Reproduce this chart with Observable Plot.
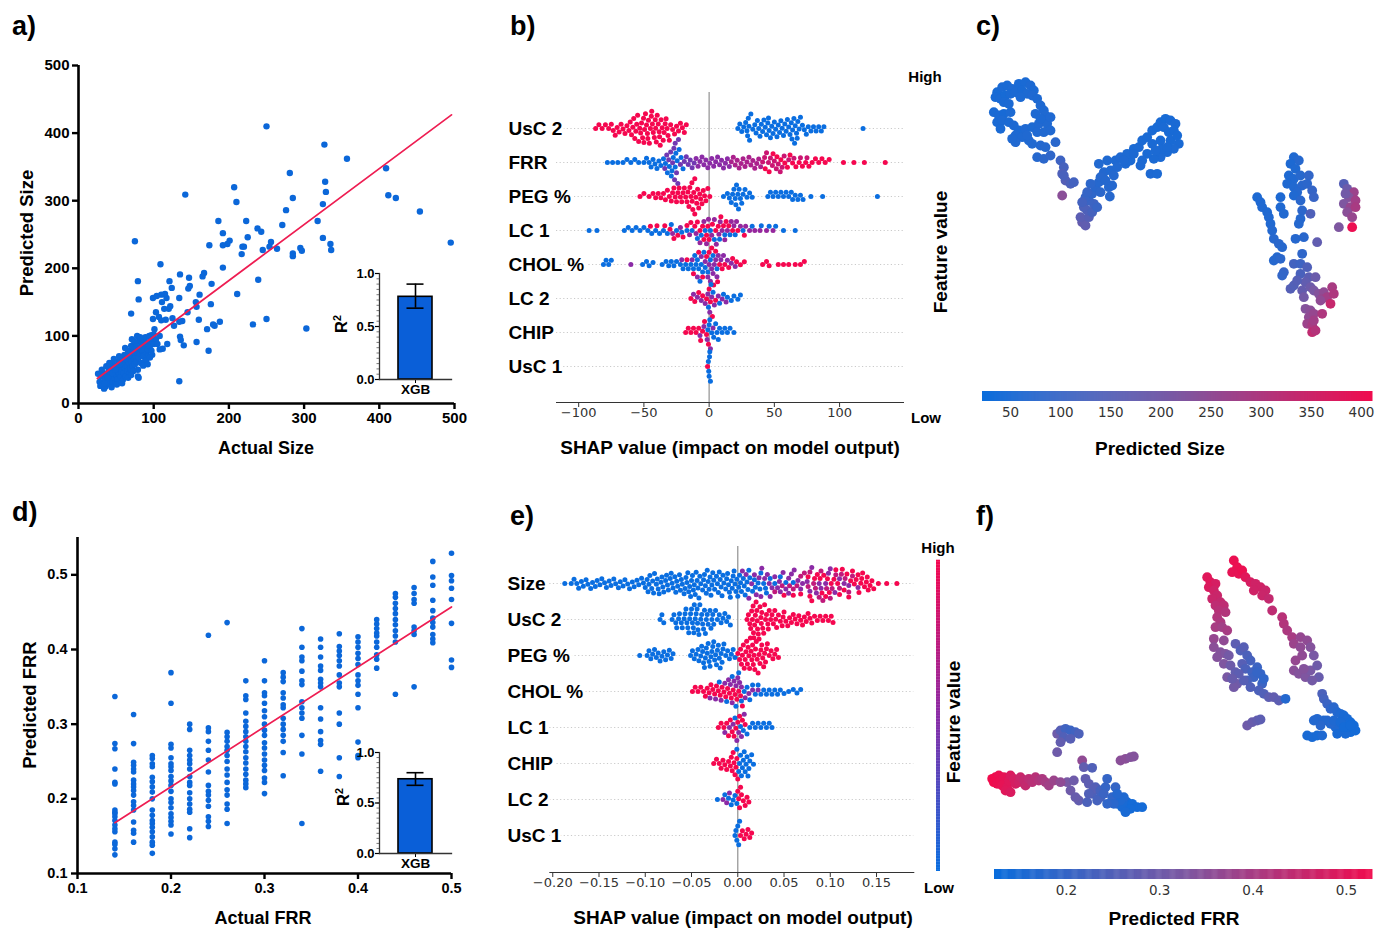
<!DOCTYPE html>
<html><head><meta charset="utf-8">
<script src="https://cdn.jsdelivr.net/npm/d3@7"></script>
<script src="https://cdn.jsdelivr.net/npm/@observablehq/plot@0.6"></script>
<style>
body{margin:0;background:#fff}
#root{position:relative;width:1376px;height:928px;overflow:hidden;background:#fff;font-family:'Liberation Sans',Arial,Helvetica,sans-serif}
.lbl{position:absolute;white-space:nowrap;line-height:1}
#root svg{position:absolute;overflow:visible;background:transparent;max-width:none}
</style></head><body><div id="root"></div>
<script>
// ---------------- DATA ----------------
// Panel a: Actual vs Predicted Size
const sizeTicks = [0,100,200,300,400,500];
const sizeScatter = [
[250,410],[327,383],[357,362],[409,348],[412,308],[422,304],[454,284],[495,238],[303,111],[328,328],[329,313],[325,295],[318,270],[325,245],[335,236],[336,227],[281,341],[285,304],[276,286],[271,264],[295,230],[297,226],[285,222],[285,218],[264,229],[256,239],[254,232],[245,227],[243,254],[238,259],[239,183],[250,125],[232,117],[207,320],[210,298],[223,270],[225,246],[218,232],[220,232],[217,221],[201,241],[198,236],[192,234],[192,252],[186,270],[192,201],[211,162],[174,234],[142,309],[165,188],[167,193],[177,177],[176,147],[161,161],[156,150],[157,143],[145,135],[160,124],[157,91],[171,110],[181,115],[179,117],[188,121],[173,78],[147,186],[148,174],[146,170],[135,191],[134,156],[134,33],[140,86],[135,99],[136,94],[138,122],[134,121],[127,115],[125,126],[124,171],[121,181],[122,144],[120,140],[117,156],[115,162],[109,206],[110,161],[99,156],[104,159],[111,150],[114,140],[107,128],[103,135],[116,124],[110,123],[99,125],[101,110],[118,88],[112,81],[108,80],[97,101],[79,181],[75,240],[80,154],[70,133],[80,38],
[28,32],[30,40],[32,28],[33,45],[35,36],[36,25],[38,42],[38,30],[40,48],[40,35],[42,28],[43,52],[44,40],[45,33],[46,58],[47,45],[48,38],[49,30],[50,55],[50,42],[52,48],[52,36],[53,62],[54,44],[55,52],[56,40],[57,68],[57,47],[58,55],[59,35],[60,60],[60,45],[61,72],[62,52],[63,40],[64,65],[65,56],[65,48],[66,78],[67,60],[68,44],[68,70],[69,52],[70,85],[70,62],[71,95],[72,55],[72,72],[73,48],[74,80],[74,66],[75,58],[76,90],[76,70],[77,62],[78,100],[78,76],[79,50],[80,82],[80,68],[81,92],[82,74],[83,60],[84,88],[85,78],[85,95],[86,70],[87,84],[88,62],[89,98],[90,76],[91,90],[92,80],[93,70],[94,100],[95,85],[96,92],[97,78],[98,72],[99,96],[100,88],[26,44],[29,26],[31,50],[34,22],[37,55],[41,60],[44,24],[47,66],[51,28],[54,70],[58,30],[62,82],[66,38],[70,42],[74,92],[79,40],[82,98],[86,56],[90,64],[95,68],[100,102],[103,95],[105,88],[108,100],[92,58],[35,30],[39,38],[45,45],[49,50],[55,58],[63,66],[67,72],[73,76],[77,84],[84,80]
];
const sizeFitActual = [25, 496];
const sizeFitPred = [37, 427];

// Insets (R2 of XGB model)
const models = ["XGB"];
const sizeR2 = [0.78];
const sizeR2Err = [[0.673, 0.90]];
const frrR2 = [0.735];
const frrR2Err = [[0.675, 0.80]];

// Panel d: Actual vs Predicted FRR
const frrTicks = [0.1,0.2,0.3,0.4,0.5];
const frrActualLevels = [0.14,0.16,0.18,0.20,0.22,0.24,0.26,0.28,0.30,0.32,0.34,0.36,0.38,0.40,0.42,0.44,0.46,0.48,0.50];
const frrPredicted = [
 [0.337,0.274,0.267,0.240,0.222,0.220,0.185,0.182,0.180,0.176,0.171,0.165,0.160,0.156,0.142,0.139,0.133,0.125],
 [0.313,0.274,0.249,0.245,0.240,0.236,0.225,0.220,0.216,0.211,0.205,0.196,0.191,0.185,0.169,0.158,0.154,0.142],
 [0.258,0.254,0.247,0.243,0.229,0.223,0.216,0.209,0.200,0.185,0.178,0.171,0.167,0.162,0.156,0.149,0.142,0.138,0.127],
 [0.369,0.328,0.273,0.268,0.255,0.247,0.243,0.238,0.230,0.224,0.218,0.210,0.200,0.195,0.188,0.180,0.175,0.170,0.165,0.153],
 [0.300,0.293,0.265,0.258,0.252,0.247,0.240,0.230,0.222,0.218,0.208,0.200,0.193,0.186,0.182,0.160,0.148],
 [0.419,0.295,0.290,0.277,0.265,0.252,0.236,0.218,0.210,0.205,0.198,0.190,0.176,0.170,0.163],
 [0.436,0.289,0.283,0.277,0.270,0.265,0.258,0.250,0.240,0.232,0.222,0.212,0.205,0.193,0.186,0.167],
 [0.358,0.338,0.333,0.315,0.304,0.297,0.290,0.283,0.277,0.270,0.263,0.255,0.248,0.240,0.233,0.225,0.220,0.215],
 [0.385,0.358,0.342,0.338,0.328,0.318,0.310,0.300,0.292,0.285,0.275,0.268,0.260,0.252,0.245,0.238,0.228,0.222,0.207],
 [0.369,0.363,0.357,0.342,0.335,0.326,0.322,0.308,0.300,0.293,0.285,0.277,0.262,0.231],
 [0.428,0.403,0.390,0.385,0.371,0.358,0.353,0.330,0.322,0.315,0.308,0.285,0.260,0.167],
 [0.414,0.403,0.390,0.378,0.372,0.360,0.355,0.350,0.322,0.307,0.290,0.278,0.273,0.237],
 [0.421,0.404,0.398,0.392,0.385,0.378,0.366,0.355,0.350,0.315,0.300,0.255,0.230],
 [0.417,0.410,0.403,0.395,0.388,0.380,0.366,0.358,0.352,0.340,0.322,0.276,0.258,0.255],
 [0.440,0.434,0.428,0.422,0.418,0.410,0.403,0.393,0.387,0.375],
 [0.475,0.470,0.462,0.455,0.448,0.440,0.433,0.425,0.418,0.410,0.340],
 [0.483,0.475,0.467,0.462,0.430,0.425,0.420,0.350],
 [0.518,0.497,0.486,0.466,0.452,0.442,0.436,0.430,0.420,0.414,0.409],
 [0.529,0.499,0.492,0.482,0.467,0.435,0.386,0.376]
];
const frrFitActual = [0.14, 0.50];
const frrFitPred = [0.168, 0.457];

// Panel b: SHAP values for Size model, [feature level (0 low .. 1 high), SHAP values]
const featuresB = ["UsC 2","FRR","PEG %","LC 1","CHOL %","LC 2","CHIP","UsC 1"];
const shapTicksB = [-100,-50,0,50,100];
const bUsC2 = [
 [1,[-87,-84.5,-82,-79.5,-77,-75,-73.5,-72,-70.5,-69,-67.5,-66,-64.5,-63,-61.5,-60.5,-59.5,-58.5,-57.8,-57,-56.2,-55.5,-54.8,-54,-53.2,-52.5,-51.8,-51,-50.3,-49.5,-48.8,-48,-47.3,-46.5,-45.8,-45,-44.3,-43.5,-42.8,-42,-41.3,-40.5,-39.8,-39,-38.3,-37.5,-36.8,-36,-35.2,-34.5,-33.7,-33,-32.2,-31.5,-30.5,-29.5,-28,-26.5,-25,-23.5,-22,-20.5,-19,-17.5,-44,-41,-38,-50,-47]],
 [0,[22,23.5,25,26.5,28,29,29.5,30,31,32,33.5,35,36,37,38,39,40,41,42,43,44,45,46,47,48,49,50,51,52,53,54,55,56,57,58,59,60,61,62,63,64,65,65.5,66,67,68,69,70,71.5,73,74.5,76,78,80,82,84,86,88,118,30.5,45.5,63.5,67.5]]
];
const bFRR = [
 [0,[-78,-74,-70,-66,-63,-60,-57,-54,-50,-48,-46,-44.5,-43,-41.5,-40,-38.5,-37,-35,-33.5,-32,-30.5,-29,-27.5,-26,-24.5,-23,-21.5,-20,-28.5,-25.5]],
 [0.4,[-34,-32.5,-31,-29.5,-28,-27,-26.5,-25,-23.5,-22,-19,-17.5,-16,-14.5,-13,-11.5,-26,-24]],
 [0.5,[-10,-8.5,-7,-5.5,-4,-2.5,-1,0.5,2,3.5,5,6.5,8,9.5,11,12.5,14,15.5]],
 [0.65,[17,18.5,20,21.5,23,24.5,26,27.5,29,30.5,32,33.5,35,36.5,38,39.5]],
 [0.8,[41,42.5,44,45.5,47,48.5,50,51.5,53,54.5,56,57.5,61,65,70,75]],
 [1,[43,46,49,52,55,58,60,62,64,66.5,69,71.5,74,76.5,79,81.5,84,86.5,89,92,103,111,119,135]]
];
const bPEG = [
 [1,[-53,-50,-46,-43,-41,-39,-37,-35,-33.5,-32,-30.5,-29,-28,-27,-26,-25,-24,-23,-22,-21,-20,-19,-18,-17,-16.2,-15.5,-14.8,-14,-13.2,-12.5,-11.8,-11,-10.2,-9.5,-8.8,-8,-7.2,-6.5,-5.5,-4.5,-3.5,-2.5,-1,0.5,-13,-11]],
 [0,[11,14,15.5,17,18,19,20,21,22,23,24,25,26,27.5,29,31,33,45,47,49,51,53,55,57,59,61,63,64,66,68,70,72,78,87,129,20.5,22.5]]
];
const bLC1 = [
 [0,[-92,-86,-65,-62,-59,-56,-53,-50,-47,-44,-41,-38,-35,-32,-29,-25,-21,-17,-13,-9,-6,-3,1,4,8,12,16,20,26,33,40,46,51,57,66]],
 [1,[-45,-40,-34,-30,-27,-24,-20,-17,-14,-11,-9,-7,-5,-4,-2,-1,0,2.5,5,7,9,11,13,15,18,22,27]],
 [0.55,[-28,-22,-15,-10,-7,-4,-2,-0.5,2,4,5.5,7.5,8.5,10,12,14,17,19,21,24,28,31,35,39,44,49]]
];
const bCHOL = [
 [0,[-81,-79,-77,-75,-51,-48,-46,-43,-36,-33,-31,-29,-27,-25,-22,-20,-18,-16,-14,-12,-11,-10,-9,-8,-7,-6,-5,-4,-3,-1,1,3,6]],
 [0.5,[-60,-21,-13,-9,-6,-3,-1,0,1,2,3,4,5,6,7,9,11,14,17,20]],
 [1,[-17,-12,-8,-5,-2,0,2,3.5,5,6.5,8,10,12,15,18,21,24,27,41,44,46,53,57,61,66,70,73]]
];
const bLC2 = [
 [1,[-14,-11,-8,-5,-2,0,1,2.5,5]],
 [0.5,[-12,-9,-6,-3,-1,0.5,2,4,7,10,13]],
 [0,[-0.5,1.5,3,8,11,14,17,19,22,24]]
];
const bCHIP = [
 [1,[-18,-16,-14,-12,-10,-8,-6.5,-5,-3.5,-2,-0.5]],
 [0.5,[-7,-4,-1.5,1,3]],
 [0,[-1,0,0.5,2,3.5,5,6,7,8,10,12,14,16,19]]
];
const bUsC1 = [
 [0,[-0.6,0,0.5,-0.3,0.3,1]],
 [1,[-1.2]]
];

// Panel e: SHAP values for FRR model (in thousandths of SHAP units)
const featuresE = ["Size","UsC 2","PEG %","CHOL %","LC 1","CHIP","LC 2","UsC 1"];
const shapTicksE = [-0.20,-0.15,-0.10,-0.05,0,0.05,0.10,0.15];
const eSize = [
 [0,[-187,-180,-177,-174,-172,-169,-167,-164,-162,-159,-157,-154,-152,-149,-147,-144,-142,-139,-137,-134,-132,-129,-127,-124,-122,-119,-117,-114,-112,-109,-107,-104,-102,-100,-98,-96,-95,-93,-91,-90,-88,-86,-85,-83,-81,-80,-78,-76,-75,-73,-71,-70,-68,-66,-65,-63,-61,-60,-58,-56,-55,-53,-51,-50,-49,-48,-46,-45,-43,-41,-40,-38,-36,-35,-33,-31,-30,-28,-26,-25,-23,-21,-20,-18,-16,-15,-13,-11,-10,-8,-6,-5,-3,-1,0,2,4,6,8,10,13,16,19,22,25,28,31,35,40,46,52,60,
   -97,-92,-87,-82,-77,-72,-67,-62,-57,-52,-47,-42,-37,-32,-27,-22,-17,-12,-7,-2,3,7,12,18,24,30,-54,-44,-34,-29,-19,-9,-4,1,11]],
 [0.5,[5,9,12,15,18,20,23,26,29,32,34,37,40,43,46,49,52,55,58,61,65,70,75,80,85,90,95,100,110,120,130,25,35,45,55,68,78,88,98,105,115]],
 [0.75,[40,48,56,64,72,78,84,88,92,96,102,106,112,116,124,60,68,76,82,90,100,110,120]],
 [1,[50,60,68,76,80,83,86,89,93,97,99,101,104,108,110,113,118,122,126,128,131,133,135,137,139,141,143,145,147,152,161,172,78,91,95,106,115,120,124,130,134,140]]
];
const eUsC2 = [
 [0,[-84,-82,-80,-71,-69,-67,-66,-64,-63,-61,-60,-58,-57,-56,-54,-53,-52,-51,-50,-49,-48,-47,-46,-45,-44,-43,-42,-41,-40,-39,-38,-37,-36,-35,-33,-32,-30,-29,-27,-26,-24,-22,-20,-18,-16,-14,-12,-10,-8,-55,-47.5,-43.5,-34,-28]],
 [1,[10,11.5,13,14,15,15.8,16.6,17.4,18.2,19,19.8,20.6,21.4,22.2,23,24,25,26,27,28,29,30,31,32.5,34,35.5,37,38.5,40,42,44,46,48,50,52,54,56,58,60,62,64,66,68,70,72,74,76,78,80,83,86,89,92,95,98,101,103,17,21,25.5,33,41,49]]
];
const ePEG = [
 [0,[-106,-98,-96,-94,-92,-90,-88,-86,-84,-82,-80,-78,-76,-74,-72,-70,-51,-49,-47,-45,-43,-42,-40,-39,-38,-37,-36,-35,-34,-33,-32,-31,-30,-29,-28,-27,-26,-25,-24,-23,-22,-21,-20,-19,-18,-17,-16,-15,-13,-11,-9,-7,-5,-3]],
 [1,[0,2,3,4,5,6,7,8,8.8,9.6,10.4,11.2,12,12.8,13.6,14.4,15.2,16,16.8,17.6,18.4,19.2,20,21,22,23,24,25,26,27,28,29,30,31,32,34,36,38,40,42,44]]
];
const eCHOL = [
 [1,[-49,-46,-43,-40,-37,-35,-33,-31,-29,-27,-25,-23,-21,-19,-17,-15,-13,-11,-9,-7,-5,-3,-1,1,3,5]],
 [0.5,[-30,-24,-18,-14,-10,-8,-6,-4,-2,0,2,4,8,12,16,22]],
 [0,[-20,-12,-6,-2,1,4,7,10,13,16,19,22,25,28,31,34,37,40,43,46,50,55,60,64,68]]
];
const eLC1 = [
 [1,[-21,-18,-15,-12,-10,-8,-6,-4,-2,0,2,5,8]],
 [0.5,[-14,-9,-5,-1,1,4,7]],
 [0,[-3,3,6,10,13,16,19,22,25,28,31,34,37]]
];
const eCHIP = [
 [1,[-26,-23,-20,-18,-16,-14,-12,-10,-8,-7,-6,-5,-4,-3,-2,-1,0]],
 [0,[-1,1,2,3,4,5,6,7,8,9,10,11,12,13,15,17]]
];
const eLC2 = [
 [0,[-22,-14,-10,-7,-5,-3,-1]],
 [0.5,[-16,-12,-9]],
 [1,[0,1,2,3,4,6,8,10,12]]
];
const eUsC1 = [
 [0,[-3,-2,-1,0,1,2]],
 [1,[3,5,7,9,11,13,15]]
];

// Panel c: t-SNE embedding coloured by predicted size  [t1, t2, predicted size]
const sizeColorTicks = [50,100,150,200,250,300,350,400];
const cLeftArm = [[-49,50.5,45],[-47.5,52,50],[-46,52.5,48],[-44.5,51.5,52],[-42.5,53,47],[-40.5,53.5,50],[-39,52.5,55],[-38,51,53],[-49.5,49,46],[-48,48.5,50],[-46.5,49.5,44],[-45,50,49],[-43.5,50.5,51],[-41.5,51,48],[-40,50,54],[-38.5,49.5,57],[-37,48.5,55],[-47,47.5,50],[-45.5,47,52],[-36,46.5,58],[-35,45,56],[-50,44.5,48],[-48.5,43.5,50],[-47,44,46],[-45,44.5,52],[-37.5,44,55],[-34.5,43.5,58],[-49,41.5,49],[-47.5,42,53],[-45.5,41.5,51],[-44,40.5,55],[-42.5,39,52],[-40.5,39.5,57],[-38.5,40,54],[-36.5,41,60],[-34,41,58],[-48,39.5,50],[-43.5,37.5,56],[-41.5,37,58],[-39.5,36,60],[-37,38.5,57],[-35,38.5,62],[-33,39,60],[-43.5,35.5,62],[-36,34.5,66],[-34.5,34,68],[-31.5,35.5,75],[-37,31,70],[-35,30.5,78],[-33,31.5,85],[-30,30,110],[-29,28,125],[-29.5,26,140],[-28.5,24,150],[-27,23,135],[-26,23.5,120],[-29.5,19.5,240],[-33,43,57],[-36,42.5,55],[-44.5,36.5,58],[-40,37.5,60],[-38.5,35,63],[-42,49,52],[-29,25.5,130]];
const cRightArm = [[-23.5,11.5,175],[-22.5,10.5,170],[-24,13,160],[-21.5,13,150],[-22,15,140],[-23,16,135],[-20.5,14.5,125],[-20,17,110],[-21.5,18,105],[-19,16,100],[-22.5,19,100],[-20.5,20,85],[-19.5,22,75],[-18.5,23.5,70],[-21,23,80],[-18,20.5,78],[-15.5,22,70],[-14.5,22.5,68],[-15.2,19.2,72],[-17,26.5,65],[-15,27,60],[-16,30,58],[-13.5,30,55],[-12,31,57],[-13,28,60],[-10.5,29,55],[-9,30,52],[-10,32,54],[-8,33.5,50],[-6.5,34,52],[-5.5,36,50],[-4,37,48],[-2.5,39,50],[-1,40,46],[0,41.5,48],[1.5,42.5,45],[3,42,47],[4.5,41,49],[1,40,50],[2.5,38.5,48],[4,39,46],[5.5,35,50],[4,33.5,52],[2,32.5,50],[0,31,53],[-2,30.5,51],[-3,26,55],[-1,26,52],[-4,32,50],[-5.5,30,53],[-8,32,55],[-2.5,35,49],[0,36,47],[3,36,48],[5,37.5,46],[-6,28.5,55],[-11,30,56],[-18.5,29,62],[0.5,33.5,50],[-1.5,33,52],[2,34,49],[-14,25.5,65],[-18,25,70],[-16.5,24,68],[-22,20.5,95],[-23.5,17.5,120]];
const cRightGroup = [[40,31,60],[41.5,30,70],[39,29,55],[40.5,27.5,58],[38.5,25.5,56],[40,24.5,60],[42,25.5,72],[44.5,25.5,90],[38,23,58],[40,22,62],[42.5,22.5,75],[44,23,80],[45.5,21,95],[46,19,100],[29,19,55],[30,17.5,57],[30.5,16,60],[32,14.5,58],[32.5,13,62],[33,11,60],[33.5,9,65],[36,19,55],[36,16,60],[37,14,62],[41,20.5,66],[40,19.5,60],[42,18,75],[42.5,15,80],[42,12.5,70],[45,14,140],[41.5,11,68],[43,7,75],[40.5,6.5,70],[34,6.5,70],[35.5,5,75],[36.5,4,72],[35,1,68],[34,0,70],[36,0.5,78],[47,5.5,170],[42.5,2,85],[40,-1,120],[42,-1,110],[37,-3.5,95],[36.5,-4.5,90],[39,-8.5,150],[40,-7.5,145],[42,-4,130],[44,-2,140],[44.5,-5,160],[43.5,-6.5,170],[42.5,-9,175],[45,-8,190],[46.5,-5,185],[46,-9,210],[47.5,-10,230],[49,-9.5,250],[48.5,-11.5,260],[50,-11,280],[51.5,-8,290],[52,-10,300],[51,-13,340],[48,-12,250],[43.5,-14.5,230],[45,-15,240],[44.5,-17,250],[46,-16,260],[48.5,-16,300],[44,-19,270],[45.5,-19.5,290],[45.5,-21.5,330],[46.5,-21,310],[46,-18,280],[43,-11,200],[41,-6,150]];
const cSmallCol = [[55,23,150],[56,21.5,190],[58,20.5,270],[56.5,19,230],[58.5,18,280],[55,17,220],[57,16,260],[58.5,16,290],[56,14.5,240],[53.5,10,220],[57.5,10,405],[57.5,13,260],[55.5,20,200]];

// Panel f: t-SNE embedding coloured by predicted FRR  [t1, t2, predicted FRR]
const frrColorTicks = [0.2,0.3,0.4,0.5];
const fTopLeftArm = [[14,49,0.50],[15,47.5,0.50],[16.5,47,0.48],[14.5,46,0.49],[16,45,0.47],[17,43.5,0.46],[15.5,42.5,0.46],[18,41.5,0.45],[16.5,40.5,0.44],[19,40.5,0.44],[17.5,39,0.43],[19.5,38.5,0.42],[17,37,0.42],[18,35.5,0.41],[16.5,34,0.40],[18.5,34,0.39],[20,33,0.40],[16,30.5,0.37],[19,30,0.36],[16,28,0.35],[18,26.5,0.34],[19.5,26,0.33],[17,25,0.34],[20.5,25.5,0.31],[19,23,0.33],[21,22.5,0.30],[20,19,0.32],[22.5,20.5,0.28],[23,17,0.30],[22,16,0.31]];
const fTopRightArm = [[22,54,0.52],[23,52,0.52],[21.5,50.5,0.51],[23.5,50,0.51],[24.5,51,0.52],[25.5,49,0.50],[27,47.5,0.48],[28.5,47,0.47],[30,46,0.47],[31.5,45,0.46],[28,45,0.47],[30.5,43.5,0.46],[32.5,42.5,0.45],[33.5,39,0.44],[36.5,37,0.43],[37,35,0.42],[38,33,0.41],[39.5,31,0.40],[40,29,0.38],[42,31,0.37],[44,30,0.36],[45,28,0.34],[46,25.5,0.32],[42,28,0.36],[42.5,25.5,0.36],[40.5,24,0.37],[40,21,0.35],[41.5,20,0.34],[43.5,19,0.33],[45,21,0.32],[47,22.5,0.30],[47.5,19,0.29],[45.5,18,0.31],[43,21.5,0.34]];
const fInnerStrip = [[22.5,29,0.27],[24,27,0.25],[25,28,0.26],[26,25.5,0.24],[27,24,0.23],[24.5,23,0.26],[25.5,21.5,0.24],[27.5,20.5,0.22],[29,22,0.21],[28,19,0.21],[30,20,0.20],[30.5,17,0.21],[29.5,15,0.24],[31,14,0.25],[32.5,13,0.27],[34,13,0.28],[35.5,12,0.27],[37.5,12.5,0.17],[26,18,0.23],[27,16,0.25],[29,20.5,0.20],[31,18.5,0.19],[25,18,0.26],[23.5,20,0.27],[21.5,18.5,0.29]];
const fSmallBlob = [[26,4.5,0.30],[27.5,5.5,0.29],[29,6,0.28],[30,6.3,0.27]];
const fBottomRight = [[48.5,14,0.24],[49,12.5,0.23],[50,11,0.21],[51,9.5,0.19],[52,10,0.18],[53,8.5,0.17],[54,8,0.16],[55,7.5,0.15],[56,6.5,0.15],[57,5.5,0.14],[58,4.5,0.14],[58.5,3,0.14],[57,2.5,0.14],[55.5,2,0.15],[54,3,0.15],[52.5,4,0.16],[51,5,0.17],[50,6,0.18],[52,6,0.16],[54,5.5,0.15],[56,4,0.14],[47,6.5,0.17],[49,6,0.17],[48,4.5,0.18],[46,6,0.17],[44,1.5,0.15],[45.5,1,0.15],[47,1.5,0.15],[48.5,1.5,0.16],[53,2,0.15],[55,4,0.14],[57,4.5,0.14]];
const fRedHead = [[-50.5,-11.5,0.53],[-49.5,-11,0.53],[-48.5,-10.5,0.52],[-50,-12.5,0.53],[-49,-13,0.52],[-48,-12,0.52],[-47,-11,0.51],[-47.5,-13.5,0.51],[-46,-14,0.50],[-45.5,-12,0.50],[-45,-10.5,0.49],[-44,-11.5,0.48],[-43.5,-13,0.48],[-42.5,-12.5,0.47],[-42,-11,0.46],[-41,-12,0.45],[-40.5,-13.5,0.45],[-39.5,-11.5,0.44],[-38.5,-12.5,0.43],[-37.5,-11,0.43],[-36.5,-12,0.42],[-35.5,-11.5,0.41],[-34.5,-12.5,0.40],[-33.5,-13.5,0.39],[-32,-12,0.38],[-46.5,-15,0.50],[-45,-15.5,0.49]];
const fUpperSmall = [[-31,2,0.30],[-30,3,0.26],[-28.5,3.5,0.22],[-27,3,0.21],[-25.5,2.5,0.22],[-24.5,2,0.24],[-29,1,0.25],[-30,-0.5,0.28],[-27,0.5,0.26],[-31,-3.5,0.30]];
const fStrip = [[-12,-6,0.35],[-10.5,-5.5,0.35],[-9,-5,0.34],[-8,-4.8,0.34]];
const fMiddle = [[-28,-12.5,0.32],[-27,-15,0.30],[-24.5,-18,0.28],[-25.5,-17,0.29],[-23.5,-6,0.36],[-23,-8,0.28],[-20.5,-8.2,0.25],[-22.5,-11.5,0.28],[-21.5,-13,0.27],[-19.5,-14,0.25],[-20.5,-16,0.24],[-22,-18.5,0.24],[-20,-14.5,0.26],[-18,-15,0.23],[-16.5,-14,0.20],[-16,-11.5,0.20],[-13.5,-14,0.20],[-14.5,-17,0.19],[-13,-19,0.16],[-11.5,-20,0.15],[-10,-18.5,0.15],[-8.5,-19,0.14],[-7,-20,0.14],[-5.5,-20,0.14],[-11,-17,0.16],[-12,-18,0.16],[-14,-19,0.18],[-16,-19,0.19],[-18,-17,0.22],[-19,-18,0.23],[-21.5,-16,0.25],[-17,-16,0.21],[-13,-16,0.17],[-9,-20.5,0.14],[-10.5,-21.5,0.15],[-26,-12,0.30],[-30,-12.5,0.36]];

// ---------------- STYLE ----------------
const SANS = "'Liberation Sans', Arial, Helvetica, sans-serif";
const DEJAVU = "'DejaVu Sans', 'Liberation Sans', sans-serif";
const DOT = "#0b67d9", FITLINE = "#ee1d52", BARFILL = "#0a5fd8";
const SHAP_RANGE = ["#0a6ee0", "#8b2ba6", "#f5074f"];
const MAP_RANGE = ["#0a6ddc", "#7c58a2", "#f00c4e"];
const root = document.getElementById("root");

function place(svg, left, top) {
  svg.style.position = "absolute";
  svg.style.left = left + "px";
  svg.style.top = top + "px";
  svg.style.overflow = "visible";
  svg.style.background = "transparent";
  svg.style.maxWidth = "none";
  root.appendChild(svg);
}
function label(html, x, y, size, opt = {}) {
  const d = document.createElement("div");
  d.className = "lbl";
  d.innerHTML = html;
  d.style.left = x + "px";
  d.style.top = y + "px";
  d.style.fontSize = size + "px";
  d.style.fontWeight = opt.weight || "bold";
  d.style.fontFamily = opt.family || SANS;
  d.style.color = opt.color || "#000";
  const tx = opt.anchor === "start" ? "0" : "-50%";
  d.style.transform = `translate(${tx},-50%)` + (opt.rotate ? " rotate(-90deg)" : "");
  root.appendChild(d);
}
const baseStyle = (size, weight) => ({fontFamily: SANS, fontSize: size + "px", fontWeight: weight, color: "#000", background: "transparent", overflow: "visible"});

// ---------------- PANEL a ----------------
place(Plot.plot({
  width: 470, height: 470, marginLeft: 78, marginRight: 16, marginTop: 65, marginBottom: 67,
  x: {domain: [0, 500]}, y: {domain: [0, 500]},
  style: baseStyle(15, "bold"),
  marks: [
    Plot.dot(sizeScatter, {x: d => d[0], y: d => d[1], r: 3.2, fill: DOT}),
    Plot.line(sizeFitActual, {x: d => d, y: (d, i) => sizeFitPred[i], stroke: FITLINE, strokeWidth: 1.7}),
    Plot.ruleX([0], {strokeWidth: 2.6}),
    Plot.ruleY([0], {strokeWidth: 2.6}),
    Plot.axisX({ticks: sizeTicks, tickSize: 6, tickPadding: 3, strokeWidth: 2.4, fontSize: 15, fontWeight: "bold", label: null}),
    Plot.axisY({ticks: sizeTicks, tickSize: 6, tickPadding: 3, strokeWidth: 2.4, fontSize: 15, fontWeight: "bold", label: null})
  ]
}), 0, 0);

function insetPlot(vals, errs, h, mb) {
  return Plot.plot({
    width: 160, height: h, marginLeft: 79, marginRight: 9, marginTop: 18, marginBottom: mb,
    x: {type: "band", domain: models, padding: 0.35}, y: {domain: [0, 1]},
    style: baseStyle(13, "bold"),
    marks: [
      Plot.barY(models, {x: d => d, y: (d, i) => vals[i], fill: BARFILL, stroke: "#000", strokeWidth: 1.6}),
      Plot.ruleX(models, {x: d => d, y1: (d, i) => errs[i][0], y2: (d, i) => errs[i][1], strokeWidth: 1.6}),
      Plot.tickY(models, {x: d => d, y: (d, i) => errs[i][0], strokeWidth: 1.6, insetLeft: 8.5, insetRight: 8.5}),
      Plot.tickY(models, {x: d => d, y: (d, i) => errs[i][1], strokeWidth: 1.6, insetLeft: 8.5, insetRight: 8.5}),
      Plot.axisY({ticks: d3.range(0, 1.001, 0.05), tickSize: 2.5, tickFormat: () => "", stroke: "#555", strokeWidth: 0.8, label: null}),
      Plot.axisY({ticks: [0, 0.5, 1], tickFormat: d3.format(".1f"), tickSize: 4, tickPadding: 1, strokeWidth: 1.2, fontSize: 13, fontWeight: "bold", label: null}),
      Plot.axisX({tickSize: 4, tickPadding: 1, fontSize: 13.5, fontWeight: "bold", label: null}),
      Plot.frame({anchor: "left", stroke: "#333", strokeWidth: 1.3}),
      Plot.frame({anchor: "bottom", stroke: "#333", strokeWidth: 1.3})
    ]
  });
}
place(insetPlot(sizeR2, sizeR2Err, 150, 26), 300, 255);

// ---------------- PANEL d ----------------
const frrScatter = frrActualLevels.flatMap((a, i) => frrPredicted[i].map(p => [a, p]));
place(Plot.plot({
  width: 470, height: 438, marginLeft: 77, marginRight: 19, marginTop: 47, marginBottom: 55,
  x: {domain: [0.1, 0.5]}, y: {domain: [0.1, 0.55]},
  style: baseStyle(14.5, "bold"),
  marks: [
    Plot.dot(frrScatter, {x: d => d[0], y: d => d[1], r: 2.8, fill: DOT}),
    Plot.line(frrFitActual, {x: d => d, y: (d, i) => frrFitPred[i], stroke: FITLINE, strokeWidth: 1.7}),
    Plot.ruleX([0.1], {strokeWidth: 2.6}),
    Plot.ruleY([0.1], {strokeWidth: 2.6}),
    Plot.axisX({ticks: frrTicks, tickFormat: d3.format(".1f"), tickSize: 6, tickPadding: 3, strokeWidth: 2.4, fontSize: 14.5, fontWeight: "bold", label: null}),
    Plot.axisY({ticks: frrTicks, tickFormat: d3.format(".1f"), tickSize: 6, tickPadding: 4, strokeWidth: 2.4, fontSize: 14.5, fontWeight: "bold", label: null})
  ]
}), 0, 490);
place(insetPlot(frrR2, frrR2Err, 150, 31), 300, 734);

// ---------------- SHAP panels (b, e) ----------------
function shapPanel(cfg) {
  const {left, top, width, height, ml, mr, mt, mb, domain, ticks, fmt, rows, groups, unit, dx} = cfg;
  const table = rows.flatMap((row, i) => groups[i].flatMap(([fv, vals]) => vals.map(v => ({row, v: v * unit, fv}))))
    .sort((a, b) => d3.ascending(a.v, b.v));
  const common = {width, height, marginLeft: ml, marginRight: mr, marginTop: mt, marginBottom: mb};
  place(Plot.plot({
    ...common,
    x: {domain}, y: {type: "point", domain: rows, padding: 1.02, axis: null},
    style: {fontFamily: DEJAVU, fontSize: "13px", color: "#333", background: "transparent", overflow: "visible"},
    marks: [
      Plot.ruleY(rows, {y: d => d, stroke: "#c4c4c4", strokeWidth: 0.9, strokeDasharray: "1.2,2.4"}),
      Plot.ruleX([0], {stroke: "#999", strokeWidth: 1.3}),
      Plot.frame({anchor: "bottom", stroke: "#333", strokeWidth: 1}),
      Plot.axisX({ticks, tickFormat: fmt, tickSize: 5, tickPadding: 0.5, fontSize: 13, fontFamily: DEJAVU, label: null}),
      Plot.text(rows, {y: d => d, text: d => d, frameAnchor: "left", textAnchor: "start", dx, fontSize: 19, fontWeight: "bold", fontFamily: SANS, fill: "#000", stroke: "#fff", strokeWidth: 6, paintOrder: "stroke"})
    ]
  }), left, top);
  place(Plot.plot({
    ...common,
    x: {domain, axis: null},
    fy: {domain: rows, paddingInner: 0, paddingOuter: 0.52, axis: null},
    color: {type: "linear", domain: [0, 0.5, 1], range: SHAP_RANGE},
    style: {background: "transparent", overflow: "visible"},
    marks: [
      Plot.dot(table, Plot.dodgeY({anchor: "middle", padding: 0}, {x: "v", fy: "row", r: 2.5, fill: "fv"}))
    ]
  }), left, top);
}
shapPanel({left: 490, top: 60, width: 460, height: 410, ml: 66, mr: 47, mt: 32, mb: 68,
  domain: [-117, 149], ticks: shapTicksB, fmt: d3.format("d"), rows: featuresB,
  groups: [bUsC2, bFRR, bPEG, bLC1, bCHOL, bLC2, bCHIP, bUsC1], unit: 1, dx: -48});
shapPanel({left: 490, top: 514, width: 460, height: 410, ml: 59.3, mr: 36.7, mt: 32, mb: 52,
  domain: [-0.2032, 0.1903], ticks: shapTicksE, fmt: d3.format(".2f"), rows: featuresE,
  groups: [eSize, eUsC2, ePEG, eCHOL, eLC1, eCHIP, eLC2, eUsC1], unit: 0.001, dx: -42.3});

// Feature-value colour bar of panel e
place(Plot.plot({
  width: 4, height: 311, margin: 0, y: {domain: [0, 1], axis: null},
  color: {type: "linear", domain: [0, 0.5, 1], range: SHAP_RANGE},
  style: {background: "transparent"},
  marks: [Plot.barY(d3.range(0, 1, 0.005), {y1: d => d, y2: d => d + 0.006, fill: d => d})]
}), 936, 560);

// ---------------- t-SNE panels (c, f) ----------------
function tsnePlot(points, cdomain) {
  return Plot.plot({
    width: 416, height: 320, margin: 0,
    x: {domain: [-60, 64.8], axis: null}, y: {domain: [-36, 60], axis: null},
    color: {type: "linear", domain: cdomain, range: MAP_RANGE},
    style: {background: "transparent", overflow: "visible"},
    marks: [Plot.dot(points, {x: d => d[0], y: d => d[1], fill: d => d[2], r: 4.9})]
  });
}
function colorBar(cdomain, ticks, fmt, step, ml, h, mt, mb) {
  return Plot.plot({
    width: 416, height: h, marginLeft: ml, marginRight: 4, marginTop: mt, marginBottom: mb,
    x: {domain: [cdomain[0], cdomain[2]]},
    color: {type: "linear", domain: cdomain, range: MAP_RANGE},
    style: {fontFamily: DEJAVU, fontSize: "13.5px", color: "#333", background: "transparent", overflow: "visible"},
    marks: [
      Plot.barX(d3.range(cdomain[0], cdomain[2], step), {x1: d => d, x2: d => d + step * 1.5, fill: d => d}),
      Plot.axisX({ticks, tickFormat: fmt, tickSize: 0, tickPadding: 6, fontSize: 13.5, fontFamily: DEJAVU, label: null})
    ]
  });
}
const sizeCDomain = [22, 216.5, 411];
place(tsnePlot([...cLeftArm, ...cRightArm, ...cRightGroup, ...cSmallCol], sizeCDomain), 960, 60);
place(colorBar(sizeCDomain, sizeColorTicks, d3.format("d"), 1, 22, 90, 11, 69), 960, 380);
const frrCDomain = [0.123, 0.3255, 0.528];
place(tsnePlot([...fTopLeftArm, ...fTopRightArm, ...fInnerStrip, ...fSmallBlob, ...fBottomRight, ...fRedHead, ...fUpperSmall, ...fStrip, ...fMiddle], frrCDomain), 960, 540);
place(colorBar(frrCDomain, frrColorTicks, d3.format(".1f"), 0.001, 34, 68, 9, 49), 960, 860);

// ---------------- TEXT ----------------
label("a)", 12, 26, 27, {anchor: "start"});
label("b)", 510, 26, 27, {anchor: "start"});
label("c)", 976, 26, 27, {anchor: "start"});
label("d)", 12, 512, 27, {anchor: "start"});
label("e)", 510, 516, 27, {anchor: "start"});
label("f)", 976, 516, 27, {anchor: "start"});

label("Predicted Size", 27, 233, 18.5, {rotate: true});
label("Actual Size", 266, 448, 18);
label("R<sup style='font-size:0.65em;vertical-align:0.55em'>2</sup>", 341, 324, 16.5, {rotate: true});
label("Predicted FRR", 30, 705, 18.5, {rotate: true});
label("Actual FRR", 263, 918, 18);
label("R<sup style='font-size:0.65em;vertical-align:0.55em'>2</sup>", 343, 797, 16.5, {rotate: true});

label("SHAP value (impact on model output)", 730, 447, 19);
label("High", 925, 76, 15);
label("Low", 926, 417, 15);
label("Feature value", 940, 252, 19, {rotate: true});

label("SHAP value (impact on model output)", 743, 917, 19);
label("High", 938, 547, 15);
label("Low", 939, 887, 15);
label("Feature value", 953, 722, 19, {rotate: true});

label("Predicted Size", 1160, 448, 19);
label("Predicted FRR", 1174, 918, 19);
</script></body></html>
